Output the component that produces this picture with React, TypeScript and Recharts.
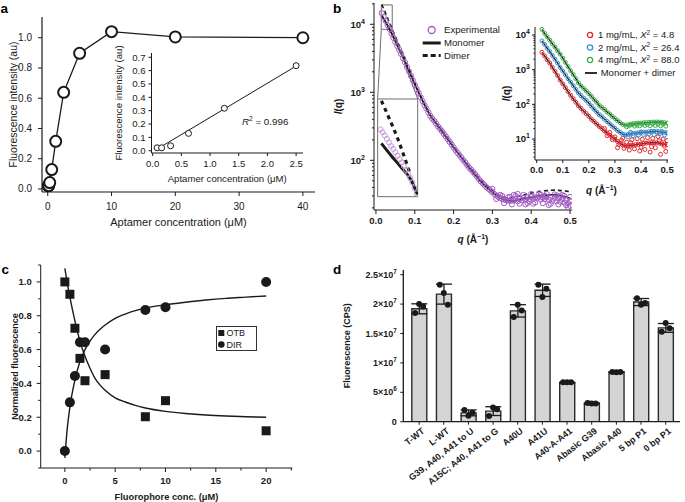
import React from 'react'
import {
  Bar,
  ComposedChart,
  ErrorBar,
  Legend,
  Line,
  ReferenceArea,
  ReferenceDot,
  ReferenceLine,
  Scatter,
  XAxis,
  YAxis,
} from 'recharts'

const FONT = '"Liberation Sans", Arial, Helvetica, sans-serif'
const INK = '#1a1a1a'
const PURPLE = '#a35cc4'
const RED = '#e3262b'
const BLUE = '#3a8fd0'
const GREEN = '#3cae49'

// ---------- panel a
const aConc = [0.078, 0.156, 0.3125, 0.625, 1.25, 2.5, 5, 10, 20, 40]
const aIntensity = [0.02, 0.022, 0.042, 0.128, 0.315, 0.639, 0.897, 1.04, 1.005, 1.0]
const aTicksX = [0, 10, 20, 30, 40]
const aTicksY = [0, 0.2, 0.4, 0.6, 0.8, 1.0]
const aInsetConc = [0.078, 0.156, 0.3125, 0.625, 1.25, 2.5]
const aInsetIntensity = [0.022, 0.022, 0.037, 0.13, 0.318, 0.637]
const aInsetFitConc = [0.06, 2.5]
const aInsetFit = [0.008, 0.634]
const aInsetTicksX = [0, 0.5, 1, 1.5, 2, 2.5]
const aInsetTicksY = [0, 0.1, 0.2, 0.3, 0.4, 0.5, 0.6, 0.7]

// ---------- panel b (q in 1/Å, I(q))
const bExperimental = [
  [0.015, 14600], [0.02, 12800], [0.025, 11200], [0.03, 9700], [0.035, 8500], [0.04, 7300], [0.045, 6300],
  [0.05, 5500], [0.055, 4800], [0.06, 4200], [0.065, 3650], [0.07, 3150], [0.075, 2750], [0.08, 2350],
  [0.085, 2030], [0.09, 1750], [0.095, 1500], [0.1, 1290], [0.105, 1120], [0.11, 980], [0.115, 850],
  [0.12, 740], [0.125, 650], [0.13, 575], [0.135, 505], [0.14, 450], [0.145, 410], [0.15, 380], [0.155, 345],
  [0.16, 315], [0.165, 290], [0.17, 268], [0.175, 245], [0.18, 224], [0.185, 205], [0.19, 186], [0.195, 170],
  [0.2, 155], [0.205, 141], [0.21, 129], [0.215, 119], [0.22, 110], [0.225, 101], [0.23, 93], [0.235, 85],
  [0.24, 78], [0.245, 73], [0.25, 68], [0.255, 63], [0.26, 58], [0.265, 53], [0.27, 49], [0.275, 46],
  [0.28, 43], [0.285, 40], [0.29, 38], [0.295, 36], [0.3, 34], [0.305, 32], [0.31, 30.5], [0.315, 29],
  [0.32, 28], [0.325, 27], [0.33, 26.5], [0.335, 26], [0.34, 25.7], [0.345, 25.5], [0.35, 25.5], [0.355, 26],
  [0.36, 27], [0.365, 25], [0.37, 27.5], [0.375, 26], [0.38, 28], [0.385, 26.5], [0.39, 28.5], [0.395, 27],
  [0.4, 29], [0.405, 27], [0.41, 28.5], [0.415, 27.5], [0.42, 29], [0.425, 26.5], [0.43, 28.5], [0.435, 27],
  [0.44, 29], [0.445, 26.5], [0.45, 28], [0.455, 25.5], [0.46, 28], [0.465, 25], [0.47, 27.5], [0.475, 24.5],
  [0.48, 27], [0.485, 24], [0.49, 26], [0.495, 23.5], [0.5, 25.5],
]
const bExperimentalSpread = [
  [0.3, 38], [0.31, 27], [0.32, 31], [0.325, 30], [0.33, 23.5], [0.34, 28.5], [0.345, 29], [0.35, 22.5],
  [0.355, 31], [0.36, 30], [0.365, 32], [0.37, 23], [0.38, 31], [0.385, 22.5], [0.39, 23.5], [0.395, 25],
  [0.4, 32], [0.405, 23], [0.41, 24], [0.42, 32.5], [0.425, 31], [0.43, 23.5], [0.435, 30], [0.44, 32],
  [0.445, 22], [0.45, 23], [0.46, 31.5], [0.465, 30.5], [0.47, 22.5], [0.475, 29.5], [0.48, 31], [0.485, 30],
  [0.49, 22], [0.495, 20.5], [0.5, 29], [0.5, 21.5],
]
const bMonomer = [
  [0.015, 13300], [0.02, 12100], [0.03, 9600], [0.04, 7400], [0.05, 5600], [0.06, 4250], [0.07, 3200],
  [0.08, 2380], [0.09, 1770], [0.1, 1310], [0.11, 990], [0.12, 750], [0.13, 580], [0.14, 455], [0.15, 380],
  [0.16, 318], [0.17, 268], [0.18, 224], [0.19, 187], [0.2, 155], [0.21, 130], [0.22, 110], [0.23, 93],
  [0.24, 78], [0.25, 67], [0.26, 57], [0.27, 49], [0.28, 43], [0.29, 38], [0.3, 34], [0.31, 30.5], [0.32, 28],
  [0.33, 26.5], [0.34, 25.5], [0.35, 25.3], [0.36, 25.8], [0.37, 26.5], [0.38, 27.3], [0.39, 28], [0.4, 28.6],
  [0.41, 29.2], [0.42, 29.8], [0.43, 30.3], [0.44, 30.7], [0.45, 31], [0.46, 31], [0.47, 30.6], [0.48, 29.8],
  [0.49, 28.7], [0.5, 27.5],
]
const bDimer = [
  [0.015, 19500], [0.02, 16800], [0.03, 12300], [0.04, 9000], [0.05, 6600], [0.06, 4850], [0.07, 3550],
  [0.08, 2580], [0.09, 1880], [0.1, 1370], [0.11, 1020], [0.12, 770], [0.13, 590], [0.14, 462], [0.15, 385],
  [0.16, 322], [0.17, 272], [0.18, 228], [0.19, 190], [0.2, 158], [0.21, 133], [0.22, 112], [0.23, 95],
  [0.24, 80], [0.25, 69], [0.26, 59], [0.27, 51], [0.28, 45], [0.29, 40], [0.3, 36], [0.31, 32.5], [0.32, 30],
  [0.33, 28.5], [0.34, 28], [0.35, 28.3], [0.36, 29], [0.37, 30], [0.38, 31], [0.39, 32], [0.4, 33],
  [0.41, 34], [0.42, 34.8], [0.43, 35.5], [0.44, 36], [0.45, 36.3], [0.46, 36.4], [0.47, 36.2], [0.48, 35.8],
  [0.49, 35.2], [0.5, 34.5],
]
// magnified low-q region
const zoomExperimental = [
  [0.0155, 14900], [0.017, 14550], [0.0185, 14150], [0.02, 13750], [0.0215, 13350], [0.023, 12950],
  [0.0245, 12650], [0.026, 12300], [0.0275, 11950], [0.029, 11600], [0.0305, 11300], [0.032, 10950],
  [0.0335, 10600], [0.035, 10250], [0.0365, 9900], [0.038, 9550], [0.0395, 9100], [0.041, 8700],
]
const zoomMonomer = [[0.0161, 13250], [0.0228, 11990], [0.03, 10840], [0.0373, 9690], [0.0416, 8630]]
const zoomDimer = [[0.0161, 18950], [0.0204, 16900], [0.0276, 13800], [0.0348, 10850], [0.036, 10400]]
const bTicksX = [0, 0.1, 0.2, 0.3, 0.4, 0.5]
const bTicksY = [
  20, 30, 40, 50, 60, 70, 80, 90, 100, 200, 300, 400, 500, 600, 700, 800, 900,
  1000, 2000, 3000, 4000, 5000, 6000, 7000, 8000, 9000, 10000, 20000,
]

// inset: concentration series
const insetQ = [
  0.02, 0.03, 0.04, 0.05, 0.06, 0.07, 0.08, 0.09, 0.1,
  0.11, 0.12, 0.13, 0.14, 0.15, 0.16, 0.17, 0.18, 0.19, 0.2,
  0.21, 0.22, 0.23, 0.24, 0.25, 0.26, 0.27, 0.28, 0.29, 0.3,
  0.31, 0.32, 0.33, 0.34, 0.35, 0.36, 0.37, 0.38, 0.39, 0.4,
  0.41, 0.42, 0.43, 0.44, 0.45, 0.46, 0.47, 0.48, 0.49, 0.5,
]
const inset4mg = [
  14500, 11200, 8900, 7100, 5600, 4500, 3550, 2820, 2140,
  1620, 1230, 930, 724, 550, 417, 339, 288, 245, 204,
  170, 138, 115, 93, 81, 71, 60, 52.5, 44.7, 38.9,
  33.9, 29.5, 26.3, 25.1, 25.7, 26.9, 27.5, 28.2, 28.8, 28.8,
  29.5, 29.5, 30.2, 30.2, 30.9, 30.9, 30.9, 30.2, 29.5, 28.8,
]
const inset2mg = [
  6760, 5370, 4170, 3310, 2570, 2000, 1550, 1170, 912,
  708, 550, 437, 347, 269, 214, 178, 151, 129, 107,
  89, 72, 60, 50, 44, 37, 32, 27.5, 23.4, 20.4,
  17.4, 15.5, 13.8, 13.2, 13.5, 14.1, 14.5, 14.8, 15.1, 15.5,
  15.8, 15.8, 16.2, 16.2, 16.6, 16.6, 16.2, 15.8, 15.5, 15.1,
]
const inset1mg = [
  3160, 2510, 1950, 1550, 1170, 891, 676, 501, 389,
  302, 234, 182, 145, 115, 91, 76, 63, 54, 45,
  37, 32, 27, 23, 20, 17, 14.8, 12.9, 11.2, 9.8,
  8.5, 7.6, 6.8, 6.3, 6.3, 6.5, 6.6, 6.9, 7.1, 7.2,
  7.4, 7.6, 7.8, 7.8, 7.8, 7.8, 7.6, 7.2, 7.1, 6.9,
]
const inset1mgSpread = [
  [0.26, 20], [0.27, 12.5], [0.28, 15.5], [0.29, 9.6], [0.3, 11.5], [0.31, 5.6], [0.315, 6.9], [0.325, 9.2],
  [0.33, 10.5], [0.335, 5.4], [0.345, 8.1], [0.355, 4.8], [0.36, 7.8], [0.365, 9.5], [0.375, 5.2], [0.385, 10.2],
  [0.395, 4.5], [0.4, 5.8], [0.405, 9.8], [0.415, 5], [0.425, 11], [0.435, 4.2], [0.44, 6], [0.445, 10.5],
  [0.455, 5.6], [0.465, 11.8], [0.47, 8.9], [0.475, 3.6], [0.485, 10], [0.49, 6.2], [0.495, 4.4], [0.5, 9],
]
const inset2mgSpread = [
  [0.35, 11.5], [0.36, 15.5], [0.37, 12.5], [0.39, 13], [0.4, 16], [0.41, 13.5], [0.43, 14], [0.44, 16.5],
  [0.45, 13.5], [0.47, 14], [0.48, 16.5], [0.49, 13],
]
const inset4mgSpread = [
  [0.345, 22.5], [0.355, 24], [0.365, 26], [0.375, 23.5], [0.385, 25], [0.395, 24], [0.405, 27], [0.415, 24.5],
  [0.425, 26], [0.435, 24], [0.445, 27.5], [0.455, 24.5], [0.465, 26.5], [0.475, 24], [0.485, 27], [0.495, 23.5],
]
const bInsetTicksY = [
  3, 4, 5, 6, 7, 8, 9, 10, 20, 30, 40, 50, 60, 70, 80, 90, 100, 200, 300, 400, 500, 600, 700, 800, 900,
  1000, 2000, 3000, 4000, 5000, 6000, 7000, 8000, 9000, 10000,
]

// ---------- panel c
const cConc = [0, 0.5, 1, 1.5, 2, 4, 8, 10, 20]
const cOTB = [1.0, 0.927, 0.726, 0.548, 0.416, 0.452, 0.203, 0.298, 0.12]
const cDIR = [0.0, 0.288, 0.444, 0.643, 0.643, 0.6, 0.834, 0.85, 1.0]
const cFitConc = [0, 0.25, 0.5, 1, 1.5, 2, 2.5, 3, 3.5, 4, 5, 6, 7, 8, 10, 12, 14, 16, 18, 20]
const cOTBFit = [1.08, 0.99, 0.91, 0.77, 0.65, 0.56, 0.49, 0.43, 0.39, 0.36, 0.315, 0.29, 0.27, 0.255, 0.235, 0.222, 0.213, 0.207, 0.203, 0.2]
const cDIRFit = [-0.04, 0.14, 0.26, 0.42, 0.53, 0.6, 0.65, 0.69, 0.72, 0.745, 0.785, 0.81, 0.83, 0.845, 0.865, 0.88, 0.893, 0.903, 0.91, 0.917]
const cTicksX = [0, 2.5, 5, 7.5, 10, 12.5, 15, 17.5, 20, 22.5]
const cTicksY = [-0.1, 0, 0.1, 0.2, 0.3, 0.4, 0.5, 0.6, 0.7, 0.8, 0.9, 1.0, 1.1]

// ---------- panel d
const dNames = [
  'T-WT', 'L-WT', 'G39, A40, A41 to U', 'A15C; A40, A41 to G', 'A40U', 'A41U',
  'A40-A-A41', 'Abasic G39', 'Abasic A40', '5 bp P1', '0 bp P1',
]
const dMean = [1.92e7, 2.17e7, 0.15e7, 0.18e7, 1.885e7, 2.235e7, 0.665e7, 0.31e7, 0.843e7, 2.035e7, 1.595e7]
const dErr = [0.085e7, 0.17e7, 0.05e7, 0.075e7, 0.105e7, 0.105e7, 0.008e7, 0.01e7, 0.005e7, 0.06e7, 0.075e7]
const dRep1 = [1.85e7, 2.33e7, 0.2e7, 0.097e7, 1.78e7, 2.33e7, 0.67e7, 0.32e7, 0.845e7, 2.1e7, 1.53e7]
const dRep2 = [2.0e7, 2.19e7, 0.1e7, 0.24e7, 1.99e7, 2.12e7, 0.67e7, 0.31e7, 0.84e7, 1.99e7, 1.68e7]
const dRep3 = [1.96e7, 1.99e7, 0.153e7, 0.21e7, 1.89e7, 2.26e7, 0.67e7, 0.31e7, 0.845e7, 2.02e7, 1.59e7]
const dTicksY = [0, 5e6, 1e7, 1.5e7, 2e7, 2.5e7]
const dTickText = [['0', ''], ['5×10', '6'], ['1×10', '7'], ['1.5×10', '7'], ['2×10', '7'], ['2.5×10', '7']]

// ---------- helpers
const pts = (arr: number[][]) => arr.map(([q, v]) => ({ q, v }))
const zip = (xs: number[], ys: number[]) => xs.map((q, i) => ({ q, v: ys[i] }))

type Fmt = (v: number) => React.ReactNode | null
type TickOpts = { len: number; minor?: number; gap: number; size: number; bold?: boolean; fmt: Fmt }

const leftTick = (o: TickOpts) => (p: any) => {
  const { x, y } = p
  const lab = o.fmt(Number(p.payload?.value))
  const len = lab === null ? o.minor ?? 2 : o.len
  return (
    <g>
      <line x1={x} x2={x - len} y1={y} y2={y} stroke={INK} strokeWidth={1} />
      {lab !== null && (
        <text x={x - o.len - o.gap} y={y} dy="0.35em" textAnchor="end" fontSize={o.size} fontWeight={o.bold ? 700 : 400} fill={INK}>
          {lab}
        </text>
      )}
    </g>
  )
}

const bottomTick = (o: TickOpts & { base: number }) => (p: any) => {
  const { x, y } = p
  const lab = o.fmt(Number(p.payload?.value))
  const len = lab === null ? o.minor ?? 2 : o.len
  return (
    <g>
      <line x1={x} x2={x} y1={y} y2={y + len} stroke={INK} strokeWidth={1} />
      {lab !== null && (
        <text x={x} y={y + o.base} textAnchor="middle" fontSize={o.size} fontWeight={o.bold ? 700 : 400} fill={INK}>
          {lab}
        </text>
      )}
    </g>
  )
}

const xTitle = (dy: number, node: React.ReactNode, style: any) => (props: any) => {
  const vb = props.viewBox
  return (
    <text x={vb.x + vb.width / 2} y={vb.y + dy} textAnchor="middle" fill={INK} {...style}>
      {node}
    </text>
  )
}

const yTitle = (dx: number, node: React.ReactNode, style: any) => (props: any) => {
  const vb = props.viewBox
  const cx = vb.x + dx
  const cy = vb.y + vb.height / 2
  return (
    <text x={cx} y={cy} dy="0.35em" transform={`rotate(-90 ${cx} ${cy})`} textAnchor="middle" fill={INK} {...style}>
      {node}
    </text>
  )
}

const pow10: Fmt = (v) => {
  const e = Math.round(Math.log10(v))
  if (Math.abs(10 ** e - v) > 1e-6 * v) return null
  return (
    <>
      10<tspan dy={-4} fontSize={7}>{e}</tspan>
    </>
  )
}

const openCircle = (r: number, stroke: string, sw = 1, fill = 'none') => (p: any) => (
  <circle cx={p.cx} cy={p.cy} r={r} stroke={stroke} strokeWidth={sw} fill={fill} />
)

const axisLine = { stroke: INK, strokeWidth: 1 }

// ---------- panel a
function PanelA() {
  const main = zip(aConc, aIntensity)
  const inset = zip(aInsetConc, aInsetIntensity)
  const fit = zip(aInsetFitConc, aInsetFit)
  return (
    <>
      <div style={{ position: 'absolute', left: 0, top: 0 }}>
        <ComposedChart width={330} height={240} margin={{ top: 17, right: 15, bottom: 14, left: 0 }}>
          <XAxis
            type="number" dataKey="q" domain={[-0.9, 41.9]} allowDataOverflow ticks={aTicksX} interval={0}
            height={34} tickSize={0} tickMargin={0} tickLine={false} axisLine={{ stroke: INK, strokeWidth: 1.2 }}
            tick={bottomTick({ len: 4, gap: 0, base: 17.5, size: 10, fmt: (v) => String(v) })}
            label={xTitle(34, 'Aptamer concentration (μM)', { fontSize: 11 })}
          />
          <YAxis
            type="number" domain={[-0.02, 1.137]} allowDataOverflow ticks={aTicksY} interval={0}
            width={42} tickSize={0} tickMargin={0} tickLine={false} axisLine={{ stroke: INK, strokeWidth: 1.2 }}
            tick={leftTick({ len: 4, gap: 6, size: 10, fmt: (v) => v.toFixed(1) })}
            label={yTitle(13, 'Fluorescence intensity (au)', { fontSize: 10.5 })}
          />
          <Line
            data={main} dataKey="v" type="linear" stroke={INK} strokeWidth={1.3}
            dot={{ r: 5.5, fill: '#fff', stroke: INK, strokeWidth: 2 }} isAnimationActive={false}
          />
        </ComposedChart>
      </div>
      <div style={{ position: 'absolute', left: 108, top: 45 }}>
        <ComposedChart width={200} height={142} margin={{ top: 8, right: 5, bottom: 0, left: 0 }}>
          <XAxis
            type="number" dataKey="q" domain={[-0.02, 2.62]} allowDataOverflow ticks={aInsetTicksX} interval={0}
            height={34} tickSize={0} tickMargin={0} tickLine={false} axisLine={axisLine}
            tick={bottomTick({ len: 3, gap: 0, base: 14, size: 9.6, fmt: (v) => v.toFixed(1) })}
            label={xTitle(29, 'Aptamer concentration (μM)', { fontSize: 9.6 })}
          />
          <YAxis
            type="number" domain={[-0.017, 0.732]} allowDataOverflow ticks={aInsetTicksY} interval={0}
            width={43.5} tickSize={0} tickMargin={0} tickLine={false} axisLine={axisLine}
            tick={leftTick({ len: 3, gap: 3, size: 9.6, fmt: (v) => v.toFixed(1) })}
            label={yTitle(11, 'Fluorescence intensity (au)', { fontSize: 9.6 })}
          />
          <Line data={fit} dataKey="v" type="linear" stroke={INK} strokeWidth={1} dot={false} isAnimationActive={false} />
          <Scatter data={inset} dataKey="v" shape={openCircle(3, INK, 1, '#fff')} isAnimationActive={false} />
          <ReferenceDot
            x={1.557} y={0.193} r={0} fill="none" stroke="none"
            label={(p: any) => (
              <text x={p.viewBox.x} y={p.viewBox.y} fontSize={9.8} fill={INK}>
                <tspan fontStyle="italic">R</tspan>
                <tspan dy={-4} fontSize={6.5}>2</tspan>
                <tspan dy={4}> = 0.996</tspan>
              </text>
            )}
          />
        </ComposedChart>
      </div>
    </>
  )
}

// ---------- panel b
const BMainLegend = () => (
  <svg width={100} height={42} style={{ overflow: 'visible', display: 'block' }}>
    <circle cx={11.7} cy={8} r={3.5} stroke={PURPLE} strokeWidth={1.3} fill="none" />
    <text x={24} y={8} dy="0.35em" fontSize={9.6} fill={INK}>Experimental</text>
    <line x1={2.7} x2={20.7} y1={21} y2={21} stroke={INK} strokeWidth={3} />
    <text x={24} y={21} dy="0.35em" fontSize={9.6} fill={INK}>Monomer</text>
    <line x1={2.7} x2={20.7} y1={33.5} y2={33.5} stroke={INK} strokeWidth={3} strokeDasharray="5 3" />
    <text x={24} y={33.5} dy="0.35em" fontSize={9.6} fill={INK}>Dimer</text>
  </svg>
)

const chiLabel = (conc: string, chi: string) => (
  <>
    {conc}, <tspan fontStyle="italic">X</tspan>
    <tspan dy={-3.5} fontSize={6.5}>2</tspan>
    <tspan dy={3.5}> = {chi}</tspan>
  </>
)

const BInsetLegend = () => (
  <svg width={110} height={54} style={{ overflow: 'visible', display: 'block' }}>
    <circle cx={7} cy={7} r={2.6} stroke={RED} strokeWidth={1.3} fill="none" />
    <text x={15} y={7} dy="0.35em" fontSize={9.5} fill={INK}>{chiLabel('1 mg/mL', '4.8')}</text>
    <circle cx={7} cy={19.5} r={2.6} stroke={BLUE} strokeWidth={1.3} fill="none" />
    <text x={15} y={19.5} dy="0.35em" fontSize={9.5} fill={INK}>{chiLabel('2 mg/mL', '26.4')}</text>
    <circle cx={7} cy={32} r={2.6} stroke={GREEN} strokeWidth={1.3} fill="none" />
    <text x={15} y={32} dy="0.35em" fontSize={9.5} fill={INK}>{chiLabel('4 mg/mL', '88.0')}</text>
    <line x1={2} x2={14} y1={45} y2={45} stroke={INK} strokeWidth={1.8} />
    <text x={17.7} y={45} dy="0.35em" fontSize={9.5} fill={INK}>Monomer + dimer</text>
  </svg>
)

const qTitle = (
  <>
    <tspan fontStyle="italic">q</tspan> (Å<tspan dy={-4} fontSize={7}>−1</tspan>
    <tspan dy={4}>)</tspan>
  </>
)
const iTitle = (
  <>
    <tspan fontStyle="italic">I</tspan>(q)
  </>
)

function PanelB() {
  return (
    <>
      <div style={{ position: 'absolute', left: 330, top: 0 }}>
        <ComposedChart width={255} height={250} margin={{ top: 3, right: 13, bottom: 0, left: 0 }}>
          <XAxis
            type="number" dataKey="q" domain={[-0.005, 0.505]} allowDataOverflow ticks={bTicksX} interval={0}
            height={40} tickSize={0} tickMargin={0} tickLine={false} axisLine={axisLine}
            tick={bottomTick({ len: 4, gap: 0, base: 13.5, size: 9.6, bold: true, fmt: (v) => v.toFixed(1) })}
            label={xTitle(33, qTitle, { fontSize: 10, fontWeight: 700 })}
          />
          <YAxis
            type="number" scale="log" domain={[18.6, 20550]} allowDataOverflow ticks={bTicksY} interval={0}
            width={44} tickSize={0} tickMargin={0} tickLine={false} axisLine={axisLine}
            tick={leftTick({ len: 4, minor: 2, gap: 5, size: 9.6, bold: true, fmt: pow10 })}
            label={yTitle(8.5, iTitle, { fontSize: 10, fontWeight: 700 })}
          />
          <Scatter data={pts(bExperimental)} dataKey="v" shape={openCircle(2.6, PURPLE, 1)} isAnimationActive={false} />
          <Scatter data={pts(bExperimentalSpread)} dataKey="v" shape={openCircle(2.6, PURPLE, 1)} isAnimationActive={false} />
          <Line data={pts(bDimer)} dataKey="v" type="monotone" stroke={INK} strokeWidth={1.6} strokeDasharray="4 3" dot={false} isAnimationActive={false} />
          <Line data={pts(bMonomer)} dataKey="v" type="monotone" stroke={INK} strokeWidth={1.8} dot={false} isAnimationActive={false} />
          <ReferenceArea x1={0.0137} x2={0.042} y1={8440} y2={19240} fill="none" stroke="#6e6e6e" strokeWidth={1} />
          <ReferenceArea x1={0.0044} x2={0.1075} y1={29.2} y2={797} fill="#fff" fillOpacity={1} stroke="#6e6e6e" strokeWidth={1} />
          <ReferenceLine segment={[{ x: 0.0137, y: 8440 }, { x: 0.0044, y: 797 }]} stroke="#6e6e6e" strokeWidth={1} />
          <ReferenceLine segment={[{ x: 0.042, y: 8440 }, { x: 0.1075, y: 797 }]} stroke="#6e6e6e" strokeWidth={1} />
          <Legend
            layout="vertical" align="center" verticalAlign="middle"
            wrapperStyle={{ left: 90, top: 22, width: 100 }} content={() => <BMainLegend />}
          />
        </ComposedChart>
      </div>
      {/* magnified low-q view inside the boxed region */}
      <div style={{ position: 'absolute', left: 378, top: 99 }}>
        <ComposedChart width={40} height={98} margin={{ top: 0, right: 0, bottom: 0, left: 0 }}>
          <XAxis type="number" dataKey="q" domain={[0.0137, 0.042]} allowDataOverflow hide />
          <YAxis type="number" scale="log" domain={[8440, 19240]} allowDataOverflow hide />
          <Scatter data={pts(zoomExperimental)} dataKey="v" shape={openCircle(2.5, '#c79ad9', 1)} isAnimationActive={false} />
          <Line data={pts(zoomDimer)} dataKey="v" type="monotone" stroke={INK} strokeWidth={3.2} strokeDasharray="4 4" dot={false} isAnimationActive={false} />
          <Line data={pts(zoomMonomer)} dataKey="v" type="monotone" stroke={INK} strokeWidth={3} dot={false} isAnimationActive={false} />
        </ComposedChart>
      </div>
      <div style={{ position: 'absolute', left: 500, top: 20 }}>
        <ComposedChart width={178} height={176} margin={{ top: 7, right: 10, bottom: 0, left: 0 }}>
          <XAxis
            type="number" dataKey="q" domain={[-0.0065, 0.5035]} allowDataOverflow ticks={bTicksX} interval={0}
            height={36} tickSize={0} tickMargin={0} tickLine={false} axisLine={axisLine}
            tick={bottomTick({ len: 3, gap: 0, base: 12.5, size: 9.6, bold: true, fmt: (v) => v.toFixed(1) })}
            label={xTitle(33.5, qTitle, { fontSize: 10, fontWeight: 700 })}
          />
          <YAxis
            type="number" scale="log" domain={[2.48, 17000]} allowDataOverflow ticks={bInsetTicksY} interval={0}
            width={35} tickSize={0} tickMargin={0} tickLine={false} axisLine={axisLine}
            tick={leftTick({ len: 3, minor: 1.6, gap: 2, size: 9.6, bold: true, fmt: pow10 })}
            label={yTitle(6, iTitle, { fontSize: 10, fontWeight: 700 })}
          />
          <Scatter data={zip(insetQ, inset1mg)} dataKey="v" shape={openCircle(2, RED, 1)} isAnimationActive={false} />
          <Scatter data={pts(inset1mgSpread)} dataKey="v" shape={openCircle(2, RED, 1)} isAnimationActive={false} />
          <Scatter data={zip(insetQ, inset2mg)} dataKey="v" shape={openCircle(2, BLUE, 1)} isAnimationActive={false} />
          <Scatter data={pts(inset2mgSpread)} dataKey="v" shape={openCircle(2, BLUE, 1)} isAnimationActive={false} />
          <Scatter data={zip(insetQ, inset4mg)} dataKey="v" shape={openCircle(2, GREEN, 1)} isAnimationActive={false} />
          <Scatter data={pts(inset4mgSpread)} dataKey="v" shape={openCircle(2, GREEN, 1)} isAnimationActive={false} />
          <Line data={zip(insetQ, inset1mg)} dataKey="v" type="monotone" stroke={INK} strokeWidth={1.3} dot={false} isAnimationActive={false} />
          <Line data={zip(insetQ, inset2mg)} dataKey="v" type="monotone" stroke={INK} strokeWidth={1.3} dot={false} isAnimationActive={false} />
          <Line data={zip(insetQ, inset4mg)} dataKey="v" type="monotone" stroke={INK} strokeWidth={1.3} dot={false} isAnimationActive={false} />
          <Legend
            layout="vertical" align="center" verticalAlign="middle"
            wrapperStyle={{ left: 83, top: 8, width: 110 }} content={() => <BInsetLegend />}
          />
        </ComposedChart>
      </div>
    </>
  )
}

// ---------- panel c
const CLegend = () => (
  <div style={{ border: '1px solid #333', width: 39, height: 23, background: '#fff' }}>
    <svg width={39} height={23} style={{ display: 'block' }}>
      <rect x={1.3} y={3} width={6} height={6} fill={INK} />
      <text x={9.5} y={6} dy="0.35em" fontSize={9} fill={INK}>OTB</text>
      <circle cx={4.3} cy={17.5} r={3.3} fill={INK} />
      <text x={9.5} y={17.5} dy="0.35em" fontSize={9} fill={INK}>DIR</text>
    </svg>
  </div>
)

function PanelC() {
  return (
    <div style={{ position: 'absolute', left: 0, top: 255 }}>
      <ComposedChart width={300} height={247} margin={{ top: 10, right: 7.7, bottom: 0, left: 0 }}>
        <XAxis
          type="number" dataKey="q" domain={[-2.4, 22.6]} allowDataOverflow ticks={cTicksX} interval={0}
          height={34} tickSize={0} tickMargin={0} tickLine={false} axisLine={axisLine}
          tick={bottomTick({
            len: 4, minor: 2.5, gap: 0, base: 15.5, size: 9.5, bold: true,
            fmt: (v) => (Number.isInteger(v / 5) ? String(v) : null),
          })}
          label={xTitle(32, 'Fluorophore conc. (μM)', { fontSize: 9.3, fontWeight: 700 })}
        />
        <YAxis
          type="number" domain={[-0.1, 1.1]} allowDataOverflow ticks={cTicksY} interval={0}
          width={40.7} tickSize={0} tickMargin={0} tickLine={false} axisLine={axisLine}
          tick={leftTick({
            len: 4, minor: 2.5, gap: 5, size: 9.5, bold: true,
            fmt: (v) => {
              const k = Math.round(v * 10)
              return k >= 0 && k <= 10 && k % 2 === 0 ? v.toFixed(1) : null
            },
          })}
          label={yTitle(15, 'Normalized fluorescence', { fontSize: 9, fontWeight: 700 })}
        />
        <Line data={zip(cFitConc, cOTBFit)} dataKey="v" type="monotone" stroke={INK} strokeWidth={1.4} dot={false} isAnimationActive={false} />
        <Line data={zip(cFitConc, cDIRFit)} dataKey="v" type="monotone" stroke={INK} strokeWidth={1.4} dot={false} isAnimationActive={false} />
        <Scatter
          data={zip(cConc, cOTB)} dataKey="v" isAnimationActive={false}
          shape={(p: any) => <rect x={p.cx - 4.5} y={p.cy - 4.5} width={9} height={9} fill={INK} />}
        />
        <Scatter
          data={zip(cConc, cDIR)} dataKey="v" isAnimationActive={false}
          shape={(p: any) => <circle cx={p.cx} cy={p.cy} r={5} fill={INK} />}
        />
        <Legend
          layout="vertical" align="center" verticalAlign="middle"
          wrapperStyle={{ left: 216, top: 71, width: 41 }} content={() => <CLegend />}
        />
      </ComposedChart>
    </div>
  )
}

// ---------- panel d
const dRows = dNames.map((name, i) => ({
  name, mean: dMean[i], err: dErr[i], r1: dRep1[i], r2: dRep2[i], r3: dRep3[i],
}))

const dYTick = (p: any) => {
  const i = dTicksY.indexOf(Number(p.payload?.value))
  const [base, exp] = dTickText[i] ?? ['', '']
  return (
    <g>
      <line x1={p.x} x2={p.x - 3} y1={p.y} y2={p.y} stroke={INK} />
      <text x={p.x - 6.5} y={p.y} dy="0.35em" textAnchor="end" fontSize={9} fontWeight={700} fill={INK}>
        {base}
        {exp && <tspan dy={-4} fontSize={6.3}>{exp}</tspan>}
      </text>
    </g>
  )
}

const dXTick = (p: any) => (
  <g transform={`translate(${p.x},${p.y})`}>
    <line x1={0} x2={0} y1={0} y2={3} stroke={INK} />
    <text transform="translate(4,8) rotate(-38)" textAnchor="end" dy="0.35em" fontSize={9} fontWeight={700} fill={INK}>
      {p.payload?.value}
    </text>
  </g>
)

const repDot = (dx: number) => (p: any) => <circle cx={p.cx + dx} cy={p.cy} r={3} fill={INK} />

function PanelD() {
  return (
    <div style={{ position: 'absolute', left: 340, top: 255 }}>
      <ComposedChart width={345} height={247} data={dRows} margin={{ top: 15, right: 5, bottom: 0, left: 0 }}>
        <XAxis
          dataKey="name" type="category" interval={0} padding={{ left: 3.5, right: 2 }}
          height={80.3} tickSize={0} tickMargin={0} tickLine={false} axisLine={{ stroke: INK, strokeWidth: 1.3 }}
          tick={dXTick}
        />
        <YAxis
          type="number" domain={[0, 2.58e7]} allowDataOverflow ticks={dTicksY} interval={0}
          width={63.3} tickSize={0} tickMargin={0} tickLine={false} axisLine={{ stroke: INK, strokeWidth: 1.3 }}
          tick={dYTick}
          label={yTitle(7, 'Fluorescence (CPS)', { fontSize: 9, fontWeight: 700 })}
        />
        <Bar dataKey="mean" barSize={15} fill="#d4d4d4" stroke="#2b2b2b" strokeWidth={1.4} isAnimationActive={false}>
          <ErrorBar dataKey="err" width={8} stroke={INK} strokeWidth={1.3} isAnimationActive={false} />
        </Bar>
        <Scatter dataKey="r1" shape={repDot(-4)} isAnimationActive={false} />
        <Scatter dataKey="r2" shape={repDot(0)} isAnimationActive={false} />
        <Scatter dataKey="r3" shape={repDot(4)} isAnimationActive={false} />
      </ComposedChart>
    </div>
  )
}

export default function App() {
  return (
    <div
      style={{
        position: 'absolute', left: 0, top: 0, width: 685, height: 502,
        background: '#fff', fontFamily: FONT, overflow: 'hidden',
      }}
    >
      <PanelA />
      <PanelB />
      <PanelC />
      <PanelD />
      <svg width={685} height={502} style={{ position: 'absolute', left: 0, top: 0, pointerEvents: 'none' }}>
        <g fontSize={13.5} fontWeight={700} fill="#000" fontFamily={FONT}>
          <text x={0.5} y={12.5}>a</text>
          <text x={333} y={12.5}>b</text>
          <text x={1.5} y={273.5}>c</text>
          <text x={333} y={273.5}>d</text>
        </g>
      </svg>
    </div>
  )
}
